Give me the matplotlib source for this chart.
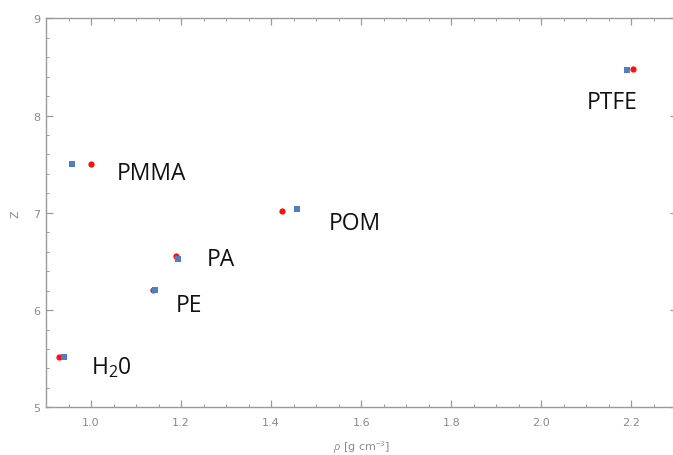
import matplotlib
matplotlib.use("Agg")
import matplotlib.pyplot as plt
from matplotlib.ticker import MultipleLocator

plt.rcParams['mathtext.fontset'] = 'custom'
plt.rcParams['mathtext.rm'] = 'Open Sans'
plt.rcParams['mathtext.it'] = 'Open Sans:italic'

materials = ["H$_2$0", "PMMA", "PE", "PA", "POM", "PTFE"]
rho_red = [0.928, 1.000, 1.137, 1.188, 1.423, 2.203]
z_red = [5.52, 7.50, 6.21, 6.56, 7.02, 8.48]
rho_blue = [0.941, 0.958, 1.141, 1.193, 1.457, 2.189]
z_blue = [5.52, 7.50, 6.21, 6.53, 7.04, 8.47]
label_x = [1.001, 1.057, 1.188, 1.257, 1.528, 2.101]
label_y = [5.42, 7.41, 6.05, 6.52, 6.90, 8.14]

fig = plt.figure(figsize=(6.73, 4.56), dpi=100)
ax = fig.add_axes([46/673, 1-408.3/456, (676.5-46)/673, (408.3-19.3)/456])

ax.plot(rho_red, z_red, 'o', color='#ff1010', markersize=4.5, markeredgewidth=0, zorder=3)
ax.plot(rho_blue, z_blue, 's', color='#4f7fc0', markersize=4.3, markeredgewidth=0, zorder=4)

for name, lx, ly in zip(materials, label_x, label_y):
    ax.text(lx, ly, name, fontsize=16.5, family='Open Sans', color='#111111',
            ha='left', va='center', zorder=5)

ax.set_xlim(0.9, 2.3)
ax.set_ylim(5, 9)
ax.xaxis.set_major_locator(MultipleLocator(0.2))
ax.xaxis.set_minor_locator(MultipleLocator(0.05))
ax.yaxis.set_major_locator(MultipleLocator(1))
ax.yaxis.set_minor_locator(MultipleLocator(0.2))
ax.xaxis.set_major_formatter(matplotlib.ticker.FormatStrFormatter('%.1f'))

gray = '#9a9a9a'
for s in ax.spines.values():
    s.set_color(gray)
    s.set_linewidth(1.0)
ax.tick_params(which='both', direction='in', top=True, right=True, color=gray,
               labelcolor='#8a8a8a', labelsize=8)
ax.tick_params(which='major', length=5, width=0.9)
ax.tick_params(which='minor', length=2.5, width=0.7)
ax.tick_params(axis='x', pad=7)
ax.tick_params(axis='y', pad=4)

ax.set_xlabel(r'$\it{\rho}$ [g cm$^{-3}$]', fontsize=8, color='#8a8a8a', labelpad=8)
ax.set_ylabel('Z', fontsize=8, color='#8a8a8a', labelpad=9)

fig.savefig('out.png', dpi=100)
